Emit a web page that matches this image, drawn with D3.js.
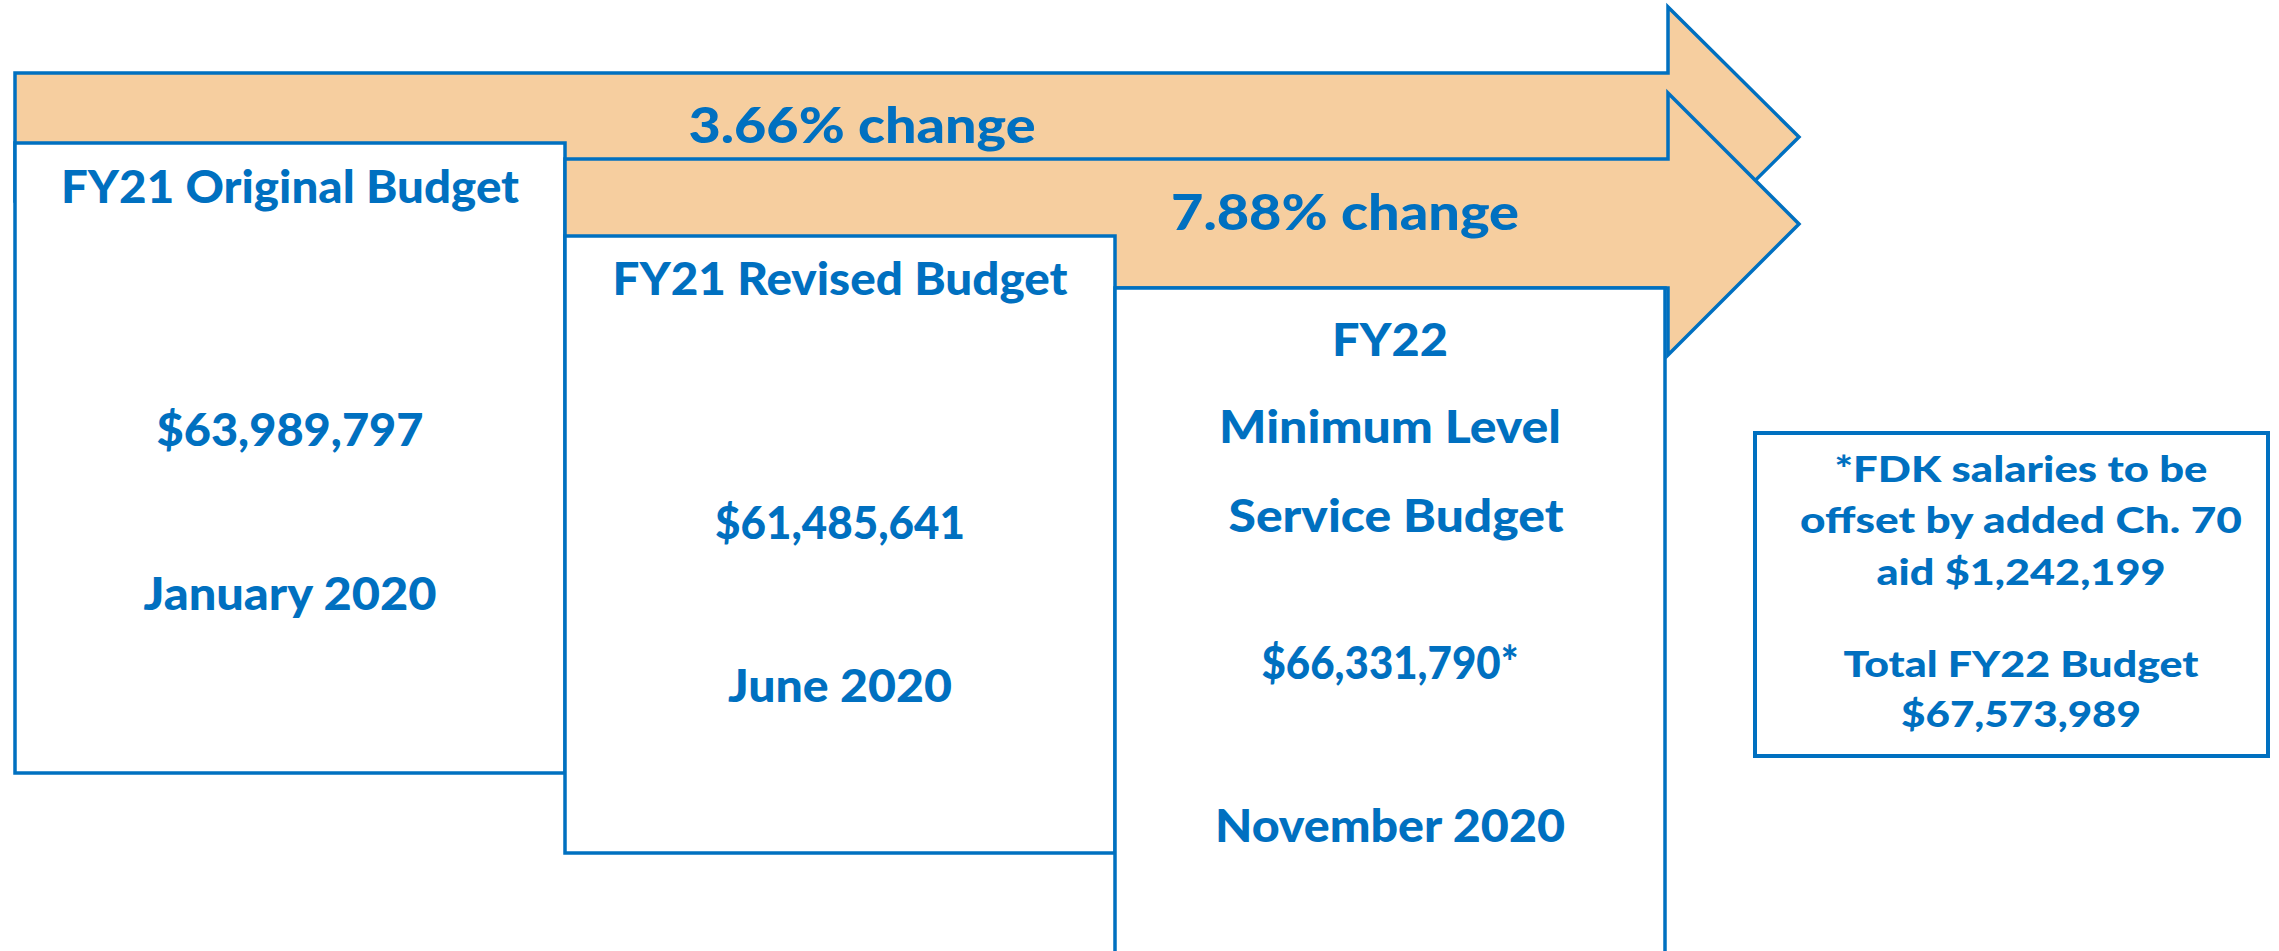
<!DOCTYPE html>
<html>
<head>
<meta charset="utf-8">
<script src="https://cdn.jsdelivr.net/npm/d3@7"></script>
<style>
  html, body { margin: 0; padding: 0; background: #ffffff; }
  svg { display: block; }
  text { font-family: Lato, "Open Sans", sans-serif; font-weight: 900; fill: #0070C0; }
</style>
</head>
<body>
<script>
// ---------- data ----------
const stages = ["FY21 Original Budget", "FY21 Revised Budget", "FY22 Minimum Level Service Budget"];
const headerLines = [["FY21 Original Budget"], ["FY21 Revised Budget"], ["FY22", "Minimum Level", " Service Budget"]];
const amounts = ["$63,989,797", "$61,485,641", "$66,331,790*"];
const dates = ["January 2020", "June 2020", "November 2020"];
const changes = ["3.66% change", "7.88% change"];
const noteLines = ["*FDK salaries to be", "offset by added Ch. 70", "aid $1,242,199"];
const totalLines = ["Total FY22 Budget", "$67,573,989"];

// ---------- layout ----------
const W = 2279, H = 951;
const BLUE = "#0070C0", PEACH = "#F6CE9F", SW = 3.5;

const svg = d3.select("body").append("svg").attr("width", W).attr("height", H);

const x = d3.scaleBand().domain(stages).range([15, 1665]).paddingInner(0);
const boxTop = [143, 236, 288];
const boxBottom = [773, 853, 1010];

const headerY = [[203], [295], [356, 443, 532]];
const amountY = [446, 539, 679];
const dateY = [610, 702, 842];

const headerW = [[458], [455], [116, 342, 335]];
const amountW = [267, 250, 257];
const dateW = [293, 224, 350];

// arrows
const arrowGeom = [
  { shaft: [73, 201], head: [7, 267], label: { x: 862, y: 143, w: 347 } },
  { shaft: [159, 288], head: [93, 355], label: { x: 1345, y: 230, w: 348 } }
];
const shaftEnd = 1668, tipX = 1799;

function arrowPath(i) {
  const g = arrowGeom[i];
  const x0 = x(stages[i]);
  const tipY = (g.head[0] + g.head[1]) / 2;
  return d3.line()([
    [x0, g.shaft[0]], [shaftEnd, g.shaft[0]], [shaftEnd, g.head[0]],
    [tipX, tipY], [shaftEnd, g.head[1]], [shaftEnd, g.shaft[1]], [x0, g.shaft[1]]
  ]) + "Z";
}

function fitText(sel, width) {
  sel.attr("textLength", width).attr("lengthAdjust", "spacingAndGlyphs");
}

function drawArrow(i) {
  svg.append("path").attr("d", arrowPath(i))
    .attr("fill", PEACH).attr("stroke", BLUE).attr("stroke-width", SW)
    .attr("stroke-linejoin", "miter");
}

function drawBox(i) {
  const g = svg.append("g");
  g.append("rect")
    .attr("x", x(stages[i])).attr("y", boxTop[i])
    .attr("width", x.bandwidth()).attr("height", boxBottom[i] - boxTop[i])
    .attr("fill", "#ffffff").attr("stroke", BLUE).attr("stroke-width", SW);
  const cx = x(stages[i]) + x.bandwidth() / 2;
  headerLines[i].forEach((ln, j) => {
    g.append("text").attr("x", cx + (ln.startsWith(" ") ? 6 : 0)).attr("y", headerY[i][j])
      .attr("text-anchor", "middle").attr("font-size", 45).text(ln.trim())
      .call(fitText, headerW[i][j]);
  });
  g.append("text").attr("x", cx).attr("y", amountY[i]).attr("text-anchor", "middle")
    .attr("font-size", 45).text(amounts[i]).call(fitText, amountW[i]);
  g.append("text").attr("x", cx).attr("y", dateY[i]).attr("text-anchor", "middle")
    .attr("font-size", 45).text(dates[i]).call(fitText, dateW[i]);
}

function drawArrowLabel(i) {
  const l = arrowGeom[i].label;
  svg.append("text").attr("x", l.x).attr("y", l.y).attr("text-anchor", "middle")
    .attr("font-size", 50).text(changes[i]).call(fitText, l.w);
}

// draw order: arrow1, box1, arrow2, box2, box3
drawArrow(0);
drawArrowLabel(0);
drawBox(0);
drawArrow(1);
drawArrowLabel(1);
drawBox(1);
drawBox(2);

// note box
const note = svg.append("g");
note.append("rect").attr("x", 1755).attr("y", 433).attr("width", 513).attr("height", 323)
  .attr("fill", "#ffffff").attr("stroke", BLUE).attr("stroke-width", 4);
const noteY = [482, 533, 585], noteW = [373, 442, 289];
noteLines.forEach((ln, j) => {
  note.append("text").attr("x", 2021).attr("y", noteY[j]).attr("text-anchor", "middle")
    .attr("font-size", 36).text(ln).call(fitText, noteW[j]);
});
const totY = [677, 727], totW = [355, 240];
totalLines.forEach((ln, j) => {
  note.append("text").attr("x", 2021).attr("y", totY[j]).attr("text-anchor", "middle")
    .attr("font-size", 36).text(ln).call(fitText, totW[j]);
});
</script>
</body>
</html>
